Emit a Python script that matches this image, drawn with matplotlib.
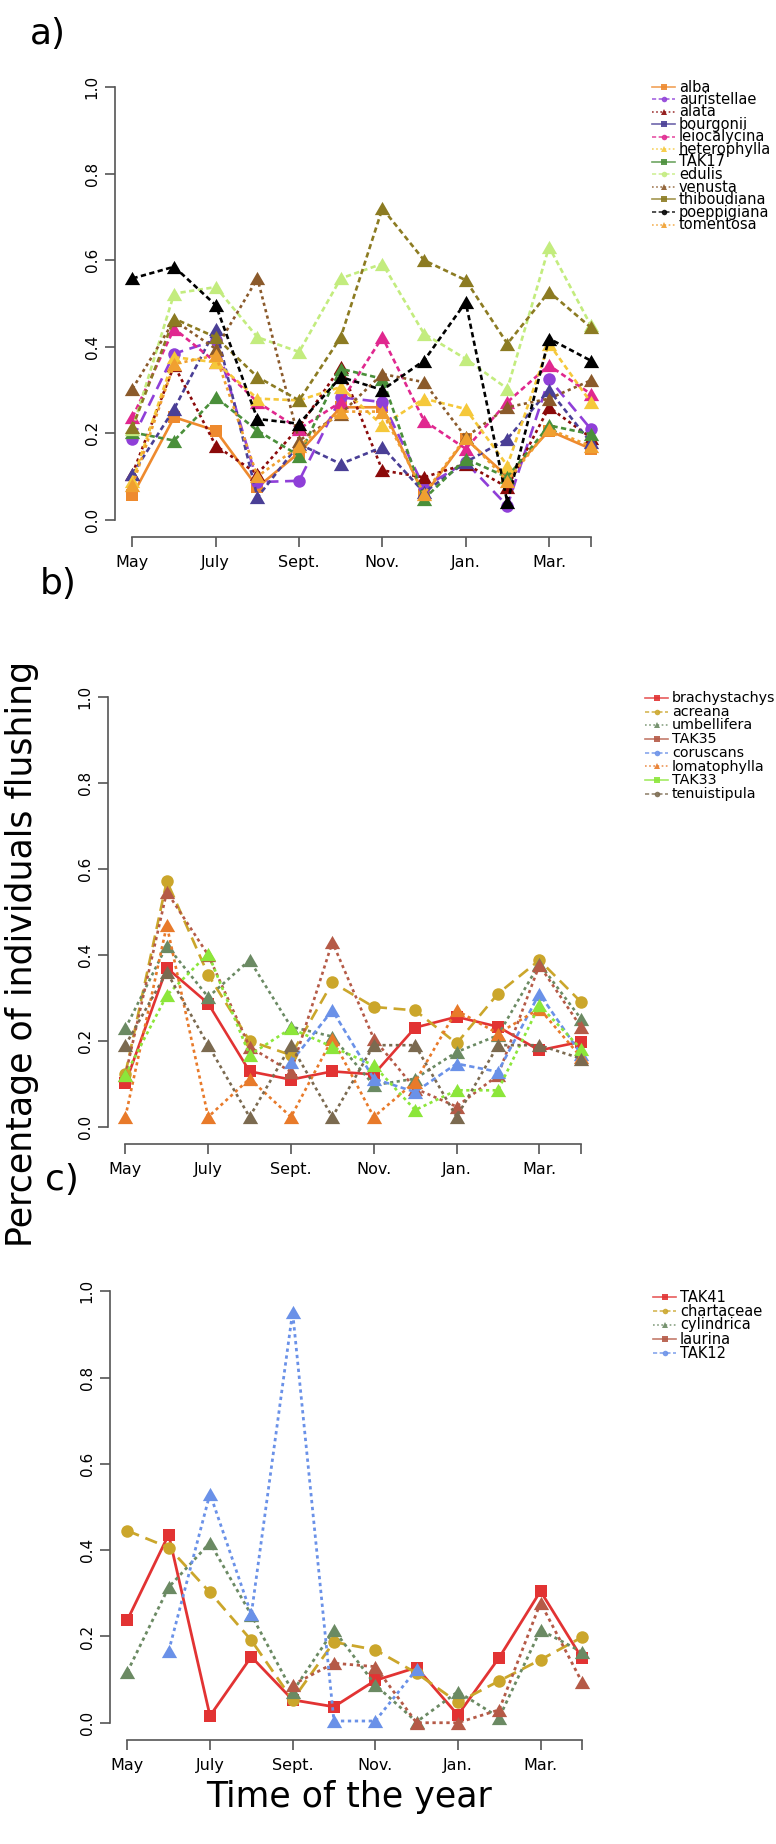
import numpy as np
import matplotlib.pyplot as plt
from matplotlib.lines import Line2D

# ============================================
# DATA
# ============================================
months = ["May", "June", "July", "Aug.", "Sept.", "Oct.", "Nov.", "Dec.", "Jan.", "Feb.", "Mar.", "Apr."]
x_ticks = [0, 2, 4, 6, 8, 10, 11]
x_ticklabels = ["May", "July", "Sept.", "Nov.", "Jan.", "Mar.", ""]
y_ticks = [0.0, 0.2, 0.4, 0.6, 0.8, 1.0]
nan = np.nan

# panel a
names_a = ["alba", "auristellae", "alata", "bourgonii", "leiocalycina", "heterophylla",
           "TAK17", "edulis", "venusta", "thiboudiana", "poeppigiana", "tomentosa"]
alba = [0.056, 0.237, 0.206, 0.075, 0.155, 0.260, 0.260, 0.056, 0.187, 0.100, 0.206, 0.164]
auristellae = [0.187, 0.384, 0.415, 0.087, 0.090, 0.283, 0.272, 0.075, 0.133, 0.032, 0.326, 0.210]
alata = [0.106, 0.357, 0.171, 0.106, 0.214, 0.353, 0.114, 0.098, 0.129, 0.075, 0.260, 0.190]
bourgonii = [0.106, 0.256, 0.442, 0.052, 0.175, 0.129, 0.168, 0.063, 0.133, 0.187, 0.300, 0.179]
leiocalycina = [0.237, 0.442, 0.364, 0.272, 0.210, 0.272, 0.422, 0.229, 0.164, 0.272, 0.357, 0.291]
heterophylla = [0.090, 0.376, 0.364, 0.280, 0.276, 0.307, 0.218, 0.280, 0.256, 0.125, 0.407, 0.272]
tak17 = [0.202, 0.183, 0.283, 0.206, 0.148, 0.349, 0.326, 0.048, 0.141, 0.098, 0.218, 0.198]
edulis = [0.210, 0.523, 0.538, 0.422, 0.388, 0.558, 0.592, 0.430, 0.372, 0.303, 0.631, 0.450]
venusta = [0.303, 0.461, 0.395, 0.558, 0.183, 0.245, 0.337, 0.318, 0.191, 0.260, 0.280, 0.322]
thiboudiana = [0.214, 0.465, 0.422, 0.330, 0.276, 0.422, 0.720, 0.600, 0.554, 0.407, 0.527, 0.445]
poeppigiana = [0.558, 0.585, 0.496, 0.233, 0.222, 0.330, 0.300, 0.368, 0.503, 0.040, 0.419, 0.368]
tomentosa = [0.080, 0.360, 0.380, 0.100, 0.170, 0.250, 0.250, 0.060, 0.190, 0.090, 0.210, 0.170]
values_a = [alba, auristellae, alata, bourgonii, leiocalycina, heterophylla,
            tak17, edulis, venusta, thiboudiana, poeppigiana, tomentosa]

# panel b
names_b = ["brachystachys", "acreana", "umbellifera", "TAK35", "coruscans",
           "lomatophylla", "TAK33", "tenuistipula"]
brachystachys = [0.101, 0.370, 0.287, 0.129, 0.110, 0.129, 0.122, 0.231, 0.256, 0.233, 0.178, 0.198]
acreana = [0.124, 0.572, 0.354, 0.200, 0.167, 0.336, 0.279, 0.271, 0.194, 0.310, 0.388, 0.291]
umbellifera = [0.229, 0.422, 0.302, 0.388, 0.233, 0.210, 0.097, 0.112, 0.174, 0.213, 0.380, 0.252]
tak35 = [0.120, 0.547, 0.400, 0.186, 0.128, 0.430, 0.205, 0.089, 0.047, 0.120, 0.376, 0.233]
coruscans = [nan, nan, nan, nan, 0.151, 0.271, 0.112, 0.081, 0.147, 0.128, 0.310, 0.170]
lomatophylla = [0.023, 0.469, 0.023, 0.112, 0.023, 0.205, 0.023, 0.105, 0.271, 0.217, 0.275, 0.163]
tak33 = [0.120, 0.306, 0.403, 0.167, 0.229, 0.186, 0.143, 0.039, 0.085, 0.085, 0.283, 0.182]
tenuistipula = [0.190, 0.360, 0.190, 0.023, 0.190, 0.023, 0.190, 0.190, 0.023, 0.190, 0.190, 0.159]
values_b = [brachystachys, acreana, umbellifera, tak35, coruscans, lomatophylla, tak33, tenuistipula]

# panel c
names_c = ["TAK41", "chartaceae", "cylindrica", "laurina", "TAK12"]
tak41 = [0.238, 0.436, 0.016, 0.153, 0.053, 0.037, 0.098, 0.128, 0.018, 0.151, 0.305, 0.150]
chartaceae = [0.445, 0.406, 0.302, 0.191, 0.053, 0.187, 0.169, 0.115, 0.047, 0.097, 0.146, 0.198]
cylindrica = [0.118, 0.314, 0.417, 0.250, 0.072, 0.215, 0.088, 0.002, 0.072, 0.012, 0.215, 0.164]
laurina = [nan, nan, nan, nan, 0.088, 0.138, 0.130, 0.000, 0.000, 0.030, 0.278, 0.095]
tak12 = [nan, 0.166, 0.531, 0.251, 0.952, 0.004, 0.004, 0.124, nan, nan, nan, nan]
values_c = [tak41, chartaceae, cylindrica, laurina, tak12]

# ============================================
# STYLES
# ============================================
DOT = (0, (1.2, 1.3))
DASH = (0, (2.0, 1.3))
LONG = (0, (4.5, 2.5))
SOLID = "-"
TRI = [(0, 0.75), (-0.866, -0.75), (0.866, -0.75)]

colors_a = ["#EE8A2E", "#8F3FD8", "#8B0A0A", "#4A3F96", "#E0288F", "#F5C83A",
            "#4A8F3A", "#C3EC7E", "#8B5A2B", "#8C7B22", "#000000", "#F0A030"]
ls_a = [SOLID, LONG, DOT, DASH, DASH, DASH, DASH, DASH, DOT, DASH, DASH, DOT]
mk_a = ["s", "o"] + [TRI] * 10

colors_b = ["#E23333", "#CBA62B", "#6B8A63", "#B55A47", "#6A91E8", "#E87A2A", "#8CE63A", "#7B6A50"]
ls_b = [SOLID, LONG, DOT, DOT, DASH, DOT, DOT, DOT]
mk_b = ["s", "o"] + [TRI] * 6

colors_c = ["#E23333", "#CBA62B", "#6B8A63", "#B55A47", "#6A91E8"]
ls_c = [SOLID, LONG, DOT, DOT, DOT]
mk_c = ["s", "o", TRI, TRI, TRI]

leg_ls = [SOLID, (0, (2.5, 1.5)), (0, (1, 1.5))]
leg_mk = ["s", "o", "^"]

W, H = 776, 1844
fig = plt.figure(figsize=(W / 100, H / 100), dpi=100)


def make_axes(left, right, top, bottom):
    ax = fig.add_axes([left / W, 1 - bottom / H, (right - left) / W, (bottom - top) / H])
    ax.set_xlim(-0.42, 11.44)
    ax.set_ylim(-0.04, 1.04)
    for s in ["top", "right"]:
        ax.spines[s].set_visible(False)
    ax.spines["left"].set_bounds(0, 1)
    ax.spines["bottom"].set_bounds(0, 11)
    for s in ["left", "bottom"]:
        ax.spines[s].set_color("#555555")
        ax.spines[s].set_linewidth(1.2)
    ax.set_xticks(x_ticks)
    ax.set_xticklabels(x_ticklabels, fontsize=11.5)
    ax.set_yticks(y_ticks)
    ax.set_yticklabels(["%.1f" % v for v in y_ticks], fontsize=11, rotation=90, va="center")
    ax.tick_params(axis="both", length=7, width=1.2, color="#555555")
    ax.tick_params(axis="x", pad=6)
    ax.tick_params(axis="y", pad=4)
    return ax


def draw_panel(ax, values, colors, styles, markers, lw=1.9):
    x = np.arange(len(months))
    for v, c, ls, mk in zip(values, colors, styles, markers):
        ms = 8.5 if mk == "s" else (9 if mk == "o" else 11)
        ax.plot(x, v, color=c, linestyle=ls, linewidth=lw, marker=mk,
                markersize=ms, markeredgewidth=0, clip_on=False)


def draw_legend(names, colors, x0, y0, dy, fontsize):
    for i, (n, c) in enumerate(zip(names, colors)):
        y = 1 - (y0 + i * dy) / H
        fig.add_artist(Line2D([(x0) / W, (x0 + 23) / W], [y, y], color=c, alpha=0.8,
                              linewidth=1.2, linestyle=leg_ls[i % 3]))
        fig.add_artist(Line2D([(x0 + 11.5) / W], [y], color=c, alpha=0.9,
                              marker=leg_mk[i % 3], markersize=4, markeredgewidth=0))
        fig.text((x0 + 27) / W, y, n, fontsize=fontsize, va="center", ha="left")


ax_a = make_axes(115, 609, 70, 537)
draw_panel(ax_a, values_a, colors_a, ls_a, mk_a)
draw_legend(names_a, colors_a, 652, 87, 12.5, 10.5)

ax_b = make_axes(108, 599, 680, 1144)
draw_panel(ax_b, values_b, colors_b, ls_b, mk_b)
draw_legend(names_b, colors_b, 645, 698, 13.7, 10.3)

ax_c = make_axes(110, 600, 1274, 1740)
draw_panel(ax_c, values_c, colors_c, ls_c, mk_c, lw=2.0)
draw_legend(names_c, colors_c, 653, 1297, 14, 10.5)

# panel labels and axis titles
fig.text(48 / W, 1 - 34 / H, "a)", fontsize=26, ha="center", va="center")
fig.text(58 / W, 1 - 584 / H, "b)", fontsize=26, ha="center", va="center")
fig.text(62 / W, 1 - 1180 / H, "c)", fontsize=26, ha="center", va="center")
fig.text(22 / W, 1 - 954 / H, "Percentage of individuals flushing", fontsize=25,
         rotation=90, ha="center", va="center")
fig.text(349 / W, 1 - 1797 / H, "Time of the year", fontsize=25, ha="center", va="center")

plt.savefig("out.png", dpi=100)
